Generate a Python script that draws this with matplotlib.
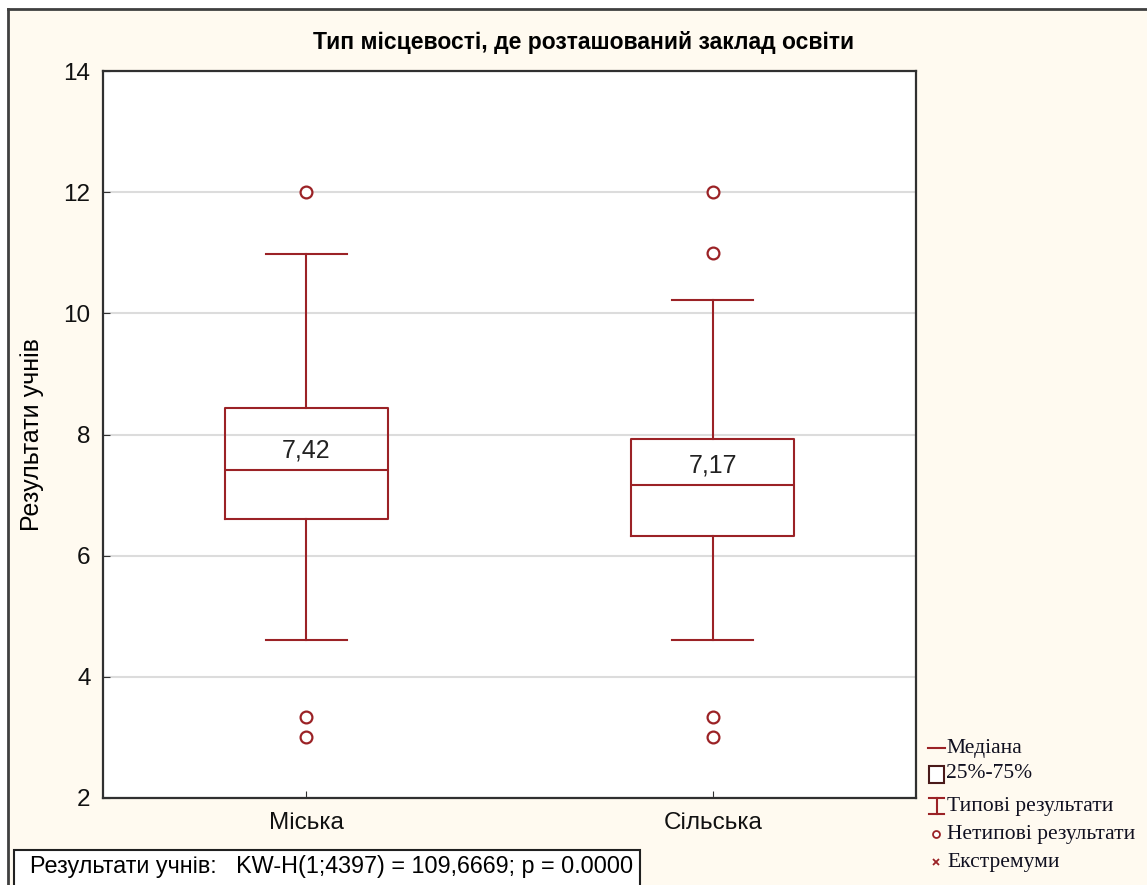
import matplotlib.pyplot as plt
from matplotlib.patches import Rectangle
from matplotlib.lines import Line2D

# Box-plot statistics
groups = ["Міська", "Сільська"]
medians = [7.42, 7.17]
q1 = [6.60, 6.32]
q3 = [8.43, 7.92]
whisk_lo = [4.61, 4.61]
whisk_hi = [10.98, 10.22]
outliers = [[12.0, 3.33, 3.0], [12.0, 11.0, 3.33, 3.0]]
median_labels = ["7,42", "7,17"]

yticks = [2, 4, 6, 8, 10, 12, 14]
title = "Тип місцевості, де розташований заклад освіти"
ylabel = "Результати учнів"
stat_text = "Результати учнів:   KW-H(1;4397) = 109,6669; p = 0.0000"
legend_labels = ["Медіана", "25%-75%", "Типові результати", "Нетипові результати", "Екстремуми"]

red = "#9b2226"
cream = "#fffaf0"
W, H = 1147, 885

plt.rcParams["font.family"] = ["Liberation Sans", "DejaVu Sans"]

fig = plt.figure(figsize=(W / 100, H / 100), dpi=100)
fig.patch.set_facecolor("white")

# background panel (cream, with a dark border on top and left)
bg = fig.add_axes([0, 0, 1, 1], zorder=-10)
bg.set_xlim(0, W)
bg.set_ylim(H, 0)
bg.axis("off")
bg.add_patch(Rectangle((8, 9), W, H, facecolor=cream, edgecolor="none"))
bg.plot([8, W], [9, 9], color="#404040", lw=2)
bg.plot([8, 8], [9, H], color="#404040", lw=2)

ax = fig.add_axes([103 / W, 1 - 798 / H, (916 - 103) / W, (798 - 71) / H])
ax.set_facecolor("white")

stats = []
for i, g in enumerate(groups):
    stats.append(dict(label=g, med=medians[i], q1=q1[i], q3=q3[i],
                      whislo=whisk_lo[i], whishi=whisk_hi[i], fliers=outliers[i]))

ax.bxp(stats, positions=[1, 2], widths=0.4, showfliers=True,
       boxprops=dict(color=red, linewidth=1.5),
       medianprops=dict(color=red, linewidth=1.5),
       whiskerprops=dict(color=red, linewidth=1.5),
       capprops=dict(color=red, linewidth=1.5),
       capwidths=0.2,
       flierprops=dict(marker="o", markersize=8.5, markerfacecolor="white",
                       markeredgecolor=red, markeredgewidth=1.6))

for i, lab in enumerate(median_labels):
    ax.annotate(lab, xy=(i + 1, medians[i]), xytext=(0, 5), textcoords="offset points",
                ha="center", va="bottom", fontsize=18, color="#222222")

ax.set_xlim(0.5, 2.5)
ax.set_ylim(2, 14)
ax.set_yticks(yticks)
ax.set_xticks([1, 2])
ax.set_xticklabels(groups)
ax.yaxis.grid(True, color="#dcdcdc", linewidth=1.5)
ax.set_axisbelow(True)
ax.tick_params(axis="both", direction="in", length=5, labelsize=17.5, colors="#303030",
               labelcolor="#111111")
ax.tick_params(axis="y", pad=9)
ax.tick_params(axis="x", pad=10)
for s in ax.spines.values():
    s.set_linewidth(1.6)
    s.set_color("#303030")
ax.set_ylabel(ylabel, fontsize=18)
ax.yaxis.set_label_coords(-(103 - 44) / (916 - 103), 0.5)

fig.text(584 / W, 1 - 42 / H, title, ha="center", va="center", fontsize=16.5, fontweight="bold")

# overlay in pixel coordinates for the legend and the statistic box
ov = fig.add_axes([0, 0, 1, 1], zorder=10)
ov.set_xlim(0, W)
ov.set_ylim(H, 0)
ov.axis("off")

ov.add_patch(Rectangle((14, 850), 626, 45, facecolor="white", edgecolor="#202020", lw=1.5,
                       clip_on=False))
ov.text(30, 867, stat_text, ha="left", va="center", fontsize=16.8,
        family=["Liberation Sans", "DejaVu Sans"])

serif = ["Liberation Serif", "DejaVu Serif"]
leg_y = [748, 774, 806, 834, 862]
# glyphs
ov.add_line(Line2D([928, 945], [748, 748], color=red, lw=1.5))
ov.add_patch(Rectangle((929, 766), 15, 17, facecolor="white", edgecolor="#4a1a1a", lw=1.5))
ov.add_line(Line2D([936.5, 936.5], [798, 814], color=red, lw=1.5))
ov.add_line(Line2D([929, 944], [798, 798], color=red, lw=1.5))
ov.add_line(Line2D([929, 944], [814, 814], color=red, lw=1.5))
ov.plot([936], [834], marker="o", markersize=5, markerfacecolor="white",
        markeredgecolor=red, markeredgewidth=1.3)
ov.plot([936], [862], marker="x", markersize=5, color=red, markeredgewidth=1.3,
        linestyle="none")
text_x = [946, 946, 947, 947, 947]
for x, y, lab in zip(text_x, leg_y, legend_labels):
    ov.text(x, y, lab, ha="left", va="center", fontsize=15.5, family=serif, color="#101020")

fig.savefig("out.png", dpi=100, facecolor=fig.get_facecolor())
